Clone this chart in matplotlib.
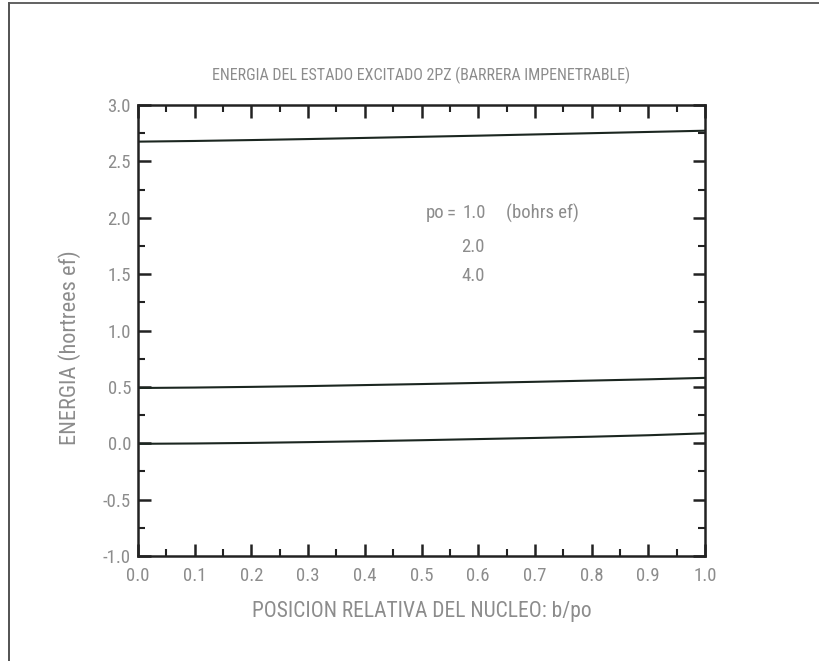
import matplotlib
matplotlib.use("Agg")
import matplotlib.pyplot as plt
from matplotlib.ticker import MultipleLocator, FormatStrFormatter
from matplotlib.lines import Line2D
from matplotlib import font_manager

# Relative nucleus position b/po
b_rel = [0.0, 0.1, 0.2, 0.3, 0.4, 0.5, 0.6, 0.7, 0.8, 0.9, 1.0]

# Energy of the 2pz excited state (hartrees ef) for each cavity radius po
e_po1 = [2.675, 2.681, 2.689, 2.698, 2.708, 2.718, 2.728, 2.739, 2.750, 2.761, 2.772]
e_po2 = [0.490, 0.494, 0.500, 0.507, 0.516, 0.525, 0.535, 0.545, 0.556, 0.567, 0.580]
e_po4 = [-0.005, -0.002, 0.003, 0.010, 0.018, 0.027, 0.037, 0.047, 0.058, 0.071, 0.088]

po_labels = ["1.0", "2.0", "4.0"]

# Prefer a condensed face for the plotter-style lettering
names = {f.name for f in font_manager.fontManager.ttflist}
narrow = None
for cand in ["Liberation Sans Narrow", "DejaVu Sans Condensed", "Roboto Condensed",
             "Open Sans Condensed", "Noto Sans Condensed"]:
    if cand in names:
        narrow = cand
        break
scale = 1.0 if narrow else 0.82
family = narrow if narrow else "DejaVu Sans"
plt.rcParams["font.family"] = [family, "DejaVu Sans"]

text_color = "#8c8c8c"
W, H = 820, 661

fig = plt.figure(figsize=(W / 100, H / 100), dpi=100)
left, right, top, bottom = 138, 705, 105, 556
ax = fig.add_axes([left / W, 1 - bottom / H, (right - left) / W, (bottom - top) / H])

for series in (e_po1, e_po2, e_po4):
    ax.plot(b_rel, series, color="#1b2620", linewidth=1.5)

ax.set_xlim(0.0, 1.0)
ax.set_ylim(-1.0, 3.0)
ax.xaxis.set_major_locator(MultipleLocator(0.1))
ax.xaxis.set_minor_locator(MultipleLocator(0.05))
ax.yaxis.set_major_locator(MultipleLocator(0.5))
ax.yaxis.set_minor_locator(MultipleLocator(0.25))
ax.xaxis.set_major_formatter(FormatStrFormatter("%.1f"))
ax.yaxis.set_major_formatter(FormatStrFormatter("%.1f"))

ax.tick_params(which="both", direction="in", top=True, right=True,
               color="#222222", labelcolor=text_color, labelsize=13.5 * scale)
ax.tick_params(which="major", length=9, width=1.8)
ax.tick_params(axis="x", which="major", pad=8)
ax.tick_params(axis="y", which="major", pad=5)
ax.tick_params(which="minor", length=5, width=1.5)
for sp in ax.spines.values():
    sp.set_linewidth(1.8)
    sp.set_color("#222222")

cx = (left + right) / 2 / W
fig.text(cx, 1 - 75 / H, "ENERGIA DEL ESTADO EXCITADO 2PZ (BARRERA IMPENETRABLE)",
         color=text_color, fontsize=11.5 * scale, ha="center", va="center")
fig.text(cx, 1 - 612 / H, "POSICION RELATIVA DEL NUCLEO: b/po",
         color=text_color, fontsize=15.5 * scale, ha="center", va="center")
fig.text(70 / W, 1 - 348 / H, "ENERGIA (hortrees ef)", color=text_color,
         fontsize=16 * scale, rotation=90, ha="center", va="center")

# Key for the cavity radius of each curve
key_fs = 13.5 * scale
ax.text(0.508, 2.04, "po", color=text_color, fontsize=key_fs,
        ha="left", va="center")
ax.text(0.552, 2.04, "=", color=text_color, fontsize=key_fs,
        ha="center", va="center")
ax.text(0.594, 2.04, po_labels[0], color=text_color, fontsize=key_fs,
        ha="center", va="center")
ax.text(0.649, 2.04, "(bohrs ef)", color=text_color, fontsize=key_fs,
        ha="left", va="center")
ax.text(0.591, 1.74, po_labels[1], color=text_color, fontsize=key_fs,
        ha="center", va="center")
ax.text(0.591, 1.48, po_labels[2], color=text_color, fontsize=key_fs,
        ha="center", va="center")

# Page frame on the left and top edges
fig.add_artist(Line2D([9.5 / W, 9.5 / W], [0.0, 1 - 3 / H], transform=fig.transFigure,
                      color="#444444", linewidth=1.3))
fig.add_artist(Line2D([9.5 / W, 1.0], [1 - 3 / H, 1 - 3 / H], transform=fig.transFigure,
                      color="#555555", linewidth=1.3))

fig.savefig("out.png", dpi=100, facecolor="white")
